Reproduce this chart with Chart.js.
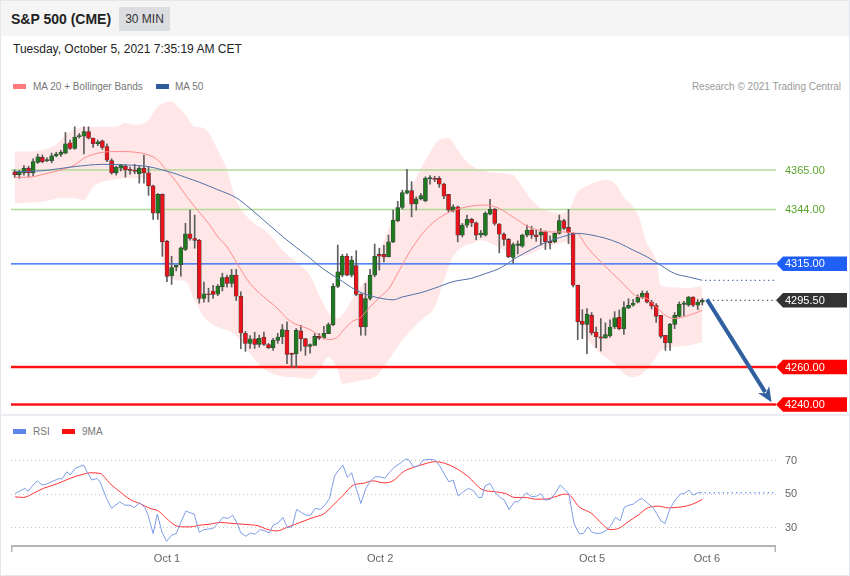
<!DOCTYPE html>
<html>
<head>
<meta charset="utf-8">
<script src="https://cdn.jsdelivr.net/npm/chart.js@4.4.1/dist/chart.umd.min.js"></script>
<style>
  html, body { margin: 0; padding: 0; background: #fff; }
  body { width: 850px; height: 576px; position: relative; overflow: hidden; font-family: "Liberation Sans", Arial, sans-serif; }
  #frame { position: absolute; left: 0; top: 0; width: 848px; height: 574px; border: 1px solid #e3e6ea; }
  #head { position: absolute; left: 1px; top: 1px; width: 848px; height: 35px; background: #f5f5f5; }
  #title { position: absolute; left: 11px; top: 11px; font-size: 14px; line-height: 16px; font-weight: bold; color: #222; }
  #tf { position: absolute; left: 119px; top: 7px; width: 51px; height: 24px; line-height: 24px; background: #dcdde1; text-align: center; font-size: 12px; color: #333; }
  #date { position: absolute; left: 13px; top: 42px; font-size: 12px; line-height: 14px; color: #222; }
  #sep { position: absolute; left: 1px; top: 414px; width: 848px; height: 2px; background: #eaedf1; }
  .sw { position: absolute; width: 13px; height: 5px; }
  .lg { position: absolute; font-size: 10px; line-height: 12px; color: #777; white-space: nowrap; }
  canvas { position: absolute; left: 0; top: 0; }
</style>
</head>
<body>
<div id="frame"></div>
<div id="head"></div>
<div id="title">S&amp;P 500 (CME)</div>
<div id="tf">30 MIN</div>
<div id="date">Tuesday, October 5, 2021 7:35:19 AM CET</div>
<div class="sw" style="left:13px;top:84px;background:#ff7b7b"></div>
<div class="lg" style="left:33px;top:81px">MA 20 + Bollinger Bands</div>
<div class="sw" style="left:156px;top:84px;background:#2e5c9a"></div>
<div class="lg" style="left:175px;top:81px">MA 50</div>
<div class="lg" style="right:9px;top:81px;color:#9a9a9a">Research © 2021 Trading Central</div>
<div id="sep"></div>
<div class="sw" style="left:13px;top:429px;background:#5d84e6"></div>
<div class="lg" style="left:33px;top:426px">RSI</div>
<div class="sw" style="left:62px;top:429px;background:#ff1010"></div>
<div class="lg" style="left:82px;top:426px">9MA</div>
<canvas id="chart" width="850" height="576"></canvas>
<script>
// 30 min candles, [open, high, low, close]
const ohlc = [
  [4364, 4365, 4361, 4362.5], [4362.5, 4364.8, 4360.5, 4364], [4363.5, 4367.3, 4362.3, 4366], [4366, 4367, 4361.5, 4363.5],
  [4363.5, 4371, 4362, 4369.5], [4369, 4373.5, 4368.5, 4372], [4371.7, 4373, 4368.8, 4369.5], [4370, 4371.5, 4369.5, 4370.5],
  [4370, 4374, 4368.8, 4372.5], [4372.5, 4374.5, 4372, 4373.5], [4373.3, 4375.5, 4372.2, 4374.5], [4374, 4385, 4373.6, 4379],
  [4379.5, 4381, 4376, 4376.5], [4376.5, 4388, 4376, 4382.5], [4382.7, 4384.5, 4382, 4383.3], [4383, 4388, 4373.6, 4385.5],
  [4385.5, 4388, 4381.5, 4382], [4382, 4382, 4377, 4379], [4379, 4381, 4378, 4380], [4380.5, 4381, 4376, 4377],
  [4377.5, 4379, 4369.5, 4370.3], [4370, 4371, 4362.7, 4363.5], [4363.5, 4367, 4362.3, 4366.5], [4366, 4368, 4364.5, 4367.7],
  [4367, 4368, 4361.2, 4365], [4365.3, 4366.5, 4362.8, 4364.8], [4365, 4368, 4363, 4364.3], [4363, 4367, 4358, 4366],
  [4366, 4373, 4358, 4363.5], [4363.5, 4366.8, 4351.5, 4356.5], [4356.5, 4357, 4338.7, 4342], [4342, 4352.5, 4338.7, 4352],
  [4352, 4352.3, 4319, 4326.7], [4327, 4327.5, 4305.5, 4308.3], [4308.5, 4319, 4304, 4313], [4313.2, 4314.3, 4311.2, 4314.3],
  [4314.5, 4324, 4308.4, 4323.5], [4322.6, 4336.6, 4322, 4331], [4331, 4343.6, 4327.6, 4328.5], [4328.5, 4341, 4323.3, 4327.5],
  [4327.5, 4328, 4294, 4296.5], [4296.5, 4305.3, 4294.6, 4299], [4299, 4302, 4294.7, 4298.5], [4300.5, 4303.5, 4296.5, 4298.7],
  [4298.8, 4304, 4298, 4303], [4302.7, 4310, 4300.5, 4307.7], [4307.8, 4309, 4302.5, 4304.5], [4304.5, 4312, 4302.6, 4309],
  [4309, 4312, 4295.4, 4297.7], [4297.7, 4300, 4269.8, 4278.1], [4278, 4279, 4268.3, 4272.5], [4272.5, 4276.8, 4269.9, 4275],
  [4275, 4278.5, 4269.9, 4272], [4272, 4277, 4270.5, 4275.3], [4276, 4278.6, 4271.5, 4272], [4272, 4272.6, 4269.8, 4270.3],
  [4270.3, 4275.3, 4268.8, 4274.2], [4274.2, 4278, 4272.6, 4276], [4276, 4282.6, 4272.4, 4279.9], [4279.5, 4284, 4261.7, 4266.7],
  [4267.4, 4267.4, 4259.9, 4266.7], [4267, 4280.5, 4259.6, 4279.5], [4279.2, 4282.2, 4268.5, 4275.1], [4275.1, 4275.1, 4266.2, 4271],
  [4271, 4272.4, 4267.4, 4271.9], [4271.5, 4277.8, 4271.5, 4276.3], [4276.3, 4277.8, 4274.6, 4275.4], [4275.5, 4281.7, 4275, 4278],
  [4277.8, 4283.5, 4277.8, 4282.6], [4282.6, 4304.5, 4282, 4303], [4303, 4325, 4302.3, 4310.7], [4309, 4320, 4308, 4319.1],
  [4319, 4320.3, 4308.5, 4309], [4309, 4319, 4308, 4317], [4314, 4322, 4298, 4298.7], [4298.7, 4299, 4276.9, 4281.3],
  [4281.3, 4304.6, 4276.9, 4296.5], [4296.5, 4312, 4295.6, 4308.9], [4309, 4325.5, 4308, 4319.1], [4320, 4323.3, 4311.6, 4319],
  [4320, 4324.8, 4316, 4318.6], [4318.7, 4330.3, 4318.7, 4326.7], [4326.7, 4343.6, 4326.2, 4338.3], [4338, 4348.3, 4337.4, 4345],
  [4345, 4354.3, 4344.2, 4352.9], [4352.6, 4365.4, 4352.2, 4354], [4354, 4358.8, 4340, 4346.8], [4347, 4350.7, 4343.6, 4349.6],
  [4349.6, 4352.5, 4349, 4351.3], [4348.6, 4361.4, 4348, 4360.6], [4360.2, 4362, 4357.4, 4361], [4360.5, 4361.7, 4358.8, 4360],
  [4360.5, 4361.5, 4355.7, 4357.5], [4357.5, 4358, 4349.7, 4351], [4352, 4352, 4342.7, 4343.6], [4343.2, 4346.4, 4342.7, 4345.4],
  [4345.4, 4345.8, 4326.7, 4330.3], [4330.3, 4336.5, 4329.3, 4335.6], [4335.6, 4341, 4334.4, 4338.7], [4338.7, 4339.3, 4334.8, 4336.8],
  [4336.8, 4337.3, 4327.8, 4330.3], [4330.4, 4332.8, 4329.1, 4331.4], [4330.3, 4342.7, 4329.8, 4341.9], [4341.5, 4349.3, 4341, 4344],
  [4344, 4344.5, 4335.6, 4336.5], [4336.2, 4336.5, 4320.8, 4330.8], [4330.8, 4331.5, 4324.8, 4328], [4328, 4328.5, 4318.3, 4318.7],
  [4318.4, 4326.2, 4315.2, 4325.3], [4324.8, 4327.2, 4320.3, 4325.6], [4324.4, 4330.8, 4323.8, 4330.3], [4330.3, 4335.6, 4329.3, 4333],
  [4333, 4335, 4328.5, 4330.3], [4330.5, 4333, 4327, 4329.5], [4330.3, 4333.8, 4325, 4332], [4332, 4332.6, 4322.6, 4326.7],
  [4327, 4329.9, 4322.9, 4326.3], [4326.7, 4331.5, 4326.2, 4331.2], [4331.2, 4341, 4330.8, 4338], [4338, 4338.7, 4333.2, 4333.9],
  [4334.4, 4344, 4325.8, 4331.5], [4331.2, 4331.5, 4302.7, 4303.6], [4303.6, 4303.6, 4274.6, 4284], [4284.5, 4290.6, 4275.1, 4282.7],
  [4282.7, 4291.1, 4267.1, 4288.1], [4287.5, 4289, 4277.1, 4278.1], [4278.6, 4281.3, 4270.3, 4276], [4276.1, 4285.8, 4268.5, 4275.4],
  [4275.4, 4283.5, 4275.4, 4277.3], [4276.5, 4285.1, 4275.9, 4281.3], [4281.3, 4289.5, 4280.4, 4286.2], [4286.5, 4290.4, 4279.8, 4280.4],
  [4280.4, 4294.7, 4277.4, 4291.7], [4291.3, 4296.4, 4291.1, 4292.9], [4292.9, 4296, 4292.4, 4294.1], [4294.6, 4298.4, 4294.1, 4297.1],
  [4297.1, 4300.5, 4296.5, 4299.3], [4299.3, 4300.5, 4294.1, 4294.6], [4294.6, 4295.6, 4290.9, 4292.4], [4292.9, 4293.8, 4283.8, 4287],
  [4287.5, 4287.5, 4275.4, 4276.3], [4276.9, 4276.9, 4268.8, 4272.8], [4272.8, 4283.2, 4268.8, 4282.7], [4282.7, 4289, 4280.4, 4287.5],
  [4287, 4294.7, 4286.6, 4293.4], [4293.4, 4295, 4287.2, 4294.2], [4293, 4297.7, 4292.4, 4297.3], [4297.3, 4297.5, 4292.2, 4292.9],
  [4292.9, 4296, 4290.6, 4294.6], [4294.6, 4296.5, 4293, 4295.5]
];

// indicator readings, [candle index, value]
const ma20 = [
  [0, 4361.1], [2, 4361.1], [4, 4361.4], [7, 4363.2], [10, 4365], [13, 4367.7], [15, 4371.3], [18, 4373.9], [21, 4374.8],
  [24, 4374.8], [27, 4374.2], [29, 4373], [31, 4370.3], [33, 4364.5], [35, 4358.8], [36, 4355.2], [39, 4345.4], [42, 4336.5],
  [44, 4329.4], [46, 4324], [48, 4316], [51, 4304.5], [54, 4297.3], [57, 4291.1], [59, 4285.8], [61, 4282.7], [64, 4279.9],
  [66, 4276.9], [68, 4274.6], [70, 4276], [71, 4279], [73, 4284], [75, 4286.5], [77, 4292], [79, 4297], [81, 4301.5],
  [83, 4310], [86, 4323], [89, 4333], [92, 4339.5], [95, 4343.3], [99, 4345.8], [102, 4346.3], [105, 4344.5], [107, 4341.5],
  [109, 4338.3], [111, 4335.1], [114, 4332.6], [116, 4332], [119, 4332], [121, 4331.5], [122, 4331], [124, 4324], [127, 4316],
  [131, 4306.5], [135, 4297.5], [137, 4296.5], [139, 4292], [141, 4287.5], [143, 4285.8], [146, 4287.5], [149, 4290.2]
];
const ma50 = [
  [0, 4364.1], [6, 4364.6], [13, 4366.8], [19, 4368], [24, 4367.7], [29, 4366.8], [32, 4365], [35, 4362.9], [37, 4361.1],
  [40, 4358.5], [44, 4354.5], [48, 4350.2], [51, 4344.5], [55, 4336], [59, 4327.6], [63, 4320], [67, 4312], [70, 4307.3],
  [74, 4300.9], [77, 4298], [80, 4296.3], [82, 4295.8], [84, 4297.3], [88, 4299.6], [91, 4302], [95, 4305.5], [99, 4307.3],
  [102, 4309.8], [105, 4312.5], [109, 4318.7], [112, 4322.7], [115, 4326.3], [118, 4328.9], [120, 4330.3], [122, 4331.2],
  [125, 4330.3], [128, 4328.6], [131, 4326], [134, 4322.3], [137, 4318.7], [140, 4314.2], [143, 4309.8], [146, 4308], [149, 4306.2]
];
const bbUpper = [
  [0, 4374.8], [3, 4374.8], [6, 4375.7], [9, 4378.5], [11, 4383.5], [13, 4386.4], [15, 4388], [18, 4388], [22, 4388.1],
  [24, 4390], [26, 4389], [29, 4391.7], [31, 4398.8], [34, 4401.5], [35, 4399.7], [37, 4394.4], [39, 4388.1], [41, 4387.4],
  [44, 4375.7], [46, 4365], [48, 4349], [51, 4338.3], [55, 4331.3], [58, 4322.3], [61, 4315.9], [64, 4308.9], [66, 4298.2],
  [68, 4289.1], [70, 4285.9], [72, 4291.3], [74, 4299.8], [77, 4310], [80, 4327.6], [82, 4338.3], [84, 4343.6], [86, 4355.5],
  [89, 4370.3], [92, 4381], [94, 4382.1], [96, 4375.7], [98, 4369.3], [101, 4365], [105, 4363.4], [108, 4362.3], [110, 4355.9],
  [112, 4349], [114, 4344.7], [118, 4342], [120, 4343.6], [122, 4353.2], [124, 4356.5], [126, 4358.6], [128, 4359.7],
  [130, 4358.1], [132, 4350.6], [135, 4341.5], [137, 4326], [139, 4316.9], [140, 4303.6], [143, 4302.5], [145, 4302], [149, 4303]
];
const bbLower = [
  [0, 4347.2], [6, 4348.1], [10, 4349.9], [13, 4349.9], [15, 4349], [17, 4356.1], [21, 4359.7], [25, 4360.6], [28, 4360.6],
  [29, 4356.1], [31, 4340], [32, 4316.9], [33, 4309.8], [35, 4306.2], [37, 4305.7], [39, 4295.6], [41, 4286.6], [44, 4281.3],
  [47, 4278.6], [49, 4274.2], [51, 4267.1], [54, 4259.1], [57, 4255.5], [60, 4254.6], [64, 4253.7], [66, 4258.2], [68, 4265.3],
  [70, 4258.2], [71, 4251.1], [75, 4252.8], [78, 4254.6], [81, 4263.5], [84, 4274.2], [88, 4284.9], [91, 4292], [93, 4306.2],
  [95, 4318.7], [97, 4324], [99, 4325.8], [101, 4327.6], [104, 4324.9], [106, 4322.3], [108, 4318.7], [112, 4320.5], [115, 4324],
  [118, 4325.8], [120, 4326.7], [121, 4312], [122, 4294], [123, 4283.1], [124, 4276], [127, 4267.1], [130, 4261.7],
  [132, 4256.4], [134, 4254.6], [136, 4256.4], [138, 4261.7], [140, 4268.8], [142, 4270.5], [146, 4271.5], [149, 4273.3]
];
const rsi = [
  [0.1, 50.1], [1.5, 52.1], [2.2, 53.1], [2.9, 51.5], [4, 55.1], [4.9, 57.6], [5.9, 55.1], [6.9, 55.7], [8.4, 57.6], [9.8, 59.1],
  [10.2, 58.5], [11.3, 63], [12, 61], [13.1, 65], [14.9, 67], [15.7, 63], [16.7, 58.1], [17.8, 59.1], [18.5, 57], [19.9, 47.1],
  [21, 41.2], [22.8, 45.1], [23.9, 43.1], [25, 43.1], [25.9, 41.7], [27.1, 44.5], [28.2, 41.7], [28.9, 37.2], [30, 26.2],
  [30.9, 37.8], [31.9, 27.2], [32.9, 21.6], [34, 25.2], [35, 26.2], [36.2, 34.2], [37.1, 39.6], [38, 38.6], [38.9, 37.8],
  [40, 27], [41, 28.6], [42.9, 29.2], [43.9, 31.8], [45.1, 35.8], [46.3, 35.2], [47.2, 37.2], [48.2, 32.2], [49, 26.6],
  [50.1, 24.6], [51.1, 26.6], [52.1, 25.8], [53.2, 28.6], [54.2, 27.8], [55.2, 26.6], [56, 31.2], [57.1, 32.6], [58.1, 35.8],
  [59.1, 29.8], [60.1, 30.2], [61.1, 40.6], [62.2, 38.6], [63.1, 37.2], [64.1, 37.2], [65.1, 41.2], [66.2, 40.6], [67.2, 43.1],
  [68.2, 47.1], [69.3, 60.4], [70.1, 63.6], [71.1, 67], [72.1, 59.7], [73, 62.4], [74, 53.1], [75, 44.1], [76.1, 53.1],
  [77.1, 57.6], [78.1, 60], [79.2, 60], [80.2, 59.1], [81.3, 63], [82.4, 66], [83.5, 68], [84.6, 70.4], [85.3, 70.4],
  [86.4, 66], [87.5, 66.4], [88.5, 70], [90, 70.4], [91.1, 70], [92.2, 66], [93.2, 61], [94.1, 57], [95, 58.1], [96.1, 48.5],
  [97.2, 51.1], [98.3, 53.1], [99.4, 51.7], [100.5, 47.7], [101.2, 47.7], [101.9, 54.5], [103, 56.1], [104.1, 50.5],
  [105.2, 47.7], [106.1, 46.1], [107.1, 40.6], [108.3, 45.1], [109.1, 45.1], [110.1, 48.1], [110.9, 50.5], [112, 48.1],
  [113.1, 48.5], [114, 50.1], [114.9, 46.1], [116, 46.5], [117.1, 50.1], [118.2, 55.1], [119.2, 52.5], [120.1, 49.7],
  [121.2, 32.2], [122.3, 26.2], [123.2, 26.2], [124.2, 30.2], [125, 27.2], [126.1, 26.2], [127.2, 26.6], [128.3, 28.2],
  [129.2, 31.2], [130.2, 35.8], [131.2, 33.8], [132.1, 41.9], [133.1, 43.1], [134, 43.7], [135.1, 46.1], [136, 47.1],
  [137.2, 44.1], [138.2, 42.1], [139.1, 38.2], [140, 33.8], [140.9, 32.2], [142, 41.2], [143.1, 46.1], [144.2, 49.7],
  [145.1, 50.1], [146.1, 52.1], [147, 49.1], [148, 50.5], [149, 50.5]
];
const rsiMa = [
  [0.1, 48.1], [1.9, 47.7], [4, 50.1], [6.2, 53.1], [9.1, 55.7], [12, 59.1], [14.9, 61.6], [16.3, 62.4], [18.5, 62],
  [20.6, 56.1], [22.8, 51.1], [25, 46.5], [27.1, 44.1], [29.3, 41.2], [31.1, 39.7], [32.9, 35.2], [34.7, 31.2], [36.5, 30.2],
  [38, 30.2], [40.1, 31.2], [42.3, 31.8], [44.5, 32.8], [47.4, 32.2], [50.3, 31.6], [52.8, 30.8], [54.6, 28.8], [56.8, 27.8],
  [58.9, 29.8], [61.8, 32.8], [64.7, 35.8], [66.9, 37.8], [69, 43.1], [71.2, 49.1], [73.4, 55.1], [75.5, 56.1], [77.7, 57.6],
  [79.9, 56.4], [82, 57.6], [84.2, 63], [86.4, 65.6], [88.5, 67.4], [91.1, 69], [93.2, 68], [95.4, 65.4], [98.3, 60],
  [101.2, 52.5], [104.1, 51.1], [106.3, 50.1], [108.4, 47.7], [110.6, 47.7], [112.8, 46.7], [114.9, 46.7], [117.1, 48.1],
  [119.2, 49.7], [120.1, 49.3], [122.3, 42.1], [125, 38.2], [127.2, 32.2], [129, 28.6], [130.8, 29.2], [132.9, 33.2],
  [135.1, 37.2], [137.3, 41.7], [139.5, 42.5], [141.6, 41.5], [144.5, 42.1], [146.7, 43.5], [149, 46.5]
];

const levels = [4365, 4344, 4315, 4260, 4240];
const levelKinds = ['res', 'res', 'pivot', 'sup', 'sup'];
const lastPrice = 4295.5;
const rsiGrid = [70, 50, 30];
const dateTicks = [33, 79.2, 125.1, 150];
const dateLabels = ['Oct 1', 'Oct 2', 'Oct 5', 'Oct 6'];
const arrowFrom = [150, 4296];
const arrowTo = [164, 4241.2];

const X_MIN = -0.8, X_MAX = 164.96;
const FONT = '"Liberation Sans", Arial, sans-serif';
const kindStyle = {
  res: { line: '#b2da98', width: 1.5 },
  pivot: { line: '#1b5ef7', width: 1.2, tag: '#1f5ff5' },
  sup: { line: '#ff1414', width: 2.5, tag: '#ff0000' }
};

const pts = arr => arr.map(([x, y]) => ({ x, y }));
const last = arr => arr[arr.length - 1];

const levelSets = levels.map((v, i) => ({
  type: 'line',
  data: [{ x: X_MIN, y: v }, { x: X_MAX, y: v }],
  borderColor: kindStyle[levelKinds[i]].line,
  borderWidth: kindStyle[levelKinds[i]].width,
  pointRadius: 0,
  order: 9
}));

const dotted = (data, color, axis) => ({
  type: 'line',
  data,
  yAxisID: axis,
  borderColor: color,
  borderWidth: 1.3,
  borderDash: [1.3, 3.2],
  pointRadius: 0,
  order: 3
});

// tag with a pointer on the left, for the price labels on the right
function tag(ctx, x, y, text, fill) {
  const h = 14.5;
  ctx.beginPath();
  ctx.moveTo(x, y);
  ctx.lineTo(x + 7, y - h / 2);
  ctx.lineTo(x + 71, y - h / 2);
  ctx.lineTo(x + 71, y + h / 2);
  ctx.lineTo(x + 7, y + h / 2);
  ctx.closePath();
  ctx.fillStyle = fill;
  ctx.fill();
  ctx.fillStyle = '#fff';
  ctx.fillText(text, x + 9, y + 0.5);
}

const overlay = {
  id: 'overlay',
  beforeDatasetsDraw(chart) {
    const { ctx, chartArea: a, scales } = chart;
    ctx.save();
    ctx.strokeStyle = '#c6c6c6';
    ctx.lineWidth = 1;
    ctx.setLineDash([1, 3]);
    rsiGrid.forEach(v => {
      const y = Math.round(scales.rsi.getPixelForValue(v)) + 0.5;
      ctx.beginPath();
      ctx.moveTo(a.left, y);
      ctx.lineTo(a.right, y);
      ctx.stroke();
    });
    ctx.restore();
  },
  afterDatasetsDraw(chart) {
    const { ctx, chartArea: a, scales } = chart;
    const sx = scales.x, sy = scales.y, sr = scales.rsi;
    ctx.save();

    // forecast arrow
    const x0 = sx.getPixelForValue(arrowFrom[0]), y0 = sy.getPixelForValue(arrowFrom[1]);
    const x1 = sx.getPixelForValue(arrowTo[0]), y1 = sy.getPixelForValue(arrowTo[1]);
    const len = Math.hypot(x1 - x0, y1 - y0);
    const ux = (x1 - x0) / len, uy = (y1 - y0) / len;
    const head = 15, half = 6.5;
    ctx.strokeStyle = ctx.fillStyle = '#30609f';
    ctx.lineWidth = 4;
    ctx.beginPath();
    ctx.moveTo(x0, y0);
    ctx.lineTo(x1 - ux * head * 0.8, y1 - uy * head * 0.8);
    ctx.stroke();
    ctx.beginPath();
    ctx.moveTo(x1, y1);
    ctx.lineTo(x1 - ux * head - uy * half, y1 - uy * head + ux * half);
    ctx.lineTo(x1 - ux * head * 0.7, y1 - uy * head * 0.7);
    ctx.lineTo(x1 - ux * head + uy * half, y1 - uy * head - ux * half);
    ctx.closePath();
    ctx.fill();

    // time axis
    ctx.strokeStyle = '#b4b4b4';
    ctx.lineWidth = 2;
    ctx.beginPath();
    ctx.moveTo(a.left, a.bottom);
    ctx.lineTo(a.right, a.bottom);
    ctx.stroke();
    ctx.lineWidth = 1.5;
    [a.left + 0.75, a.right - 0.75].forEach(x => {
      ctx.beginPath();
      ctx.moveTo(x, a.bottom);
      ctx.lineTo(x, a.bottom + 6);
      ctx.stroke();
    });
    ctx.font = '11px ' + FONT;
    ctx.fillStyle = '#666';
    ctx.textAlign = 'center';
    ctx.textBaseline = 'middle';
    dateTicks.forEach((t, i) => ctx.fillText(dateLabels[i], sx.getPixelForValue(t), a.bottom + 13));

    // right side labels
    ctx.textAlign = 'left';
    levels.forEach((v, i) => {
      const y = sy.getPixelForValue(v);
      const st = kindStyle[levelKinds[i]];
      if (st.tag) {
        tag(ctx, a.right, y, v.toFixed(2), st.tag);
      } else {
        ctx.fillStyle = '#5aa52e';
        ctx.fillText(v.toFixed(2), a.right + 9, y + 0.5);
      }
    });
    tag(ctx, a.right, sy.getPixelForValue(lastPrice), lastPrice.toFixed(2), '#333333');
    ctx.fillStyle = '#666';
    rsiGrid.forEach(v => ctx.fillText(String(v), a.right + 9, sr.getPixelForValue(v) + 0.5));
    ctx.restore();
  }
};

new Chart(document.getElementById('chart'), {
  type: 'line',
  data: {
    datasets: [
      {
        type: 'line', data: pts(bbUpper), borderColor: 'transparent', borderWidth: 0,
        backgroundColor: 'rgba(255,110,110,0.17)', fill: '+1', pointRadius: 0,
        cubicInterpolationMode: 'monotone', order: 10
      },
      {
        type: 'line', data: pts(bbLower), borderColor: 'transparent', borderWidth: 0,
        fill: false, pointRadius: 0, cubicInterpolationMode: 'monotone', order: 10
      },
      ...levelSets,
      {
        type: 'bar', data: ohlc.map((r, i) => ({ x: i, y: [r[2], r[1]] })),
        backgroundColor: '#5e5e5e', barThickness: 1, grouped: false, order: 6
      },
      {
        type: 'bar', data: ohlc.map((r, i) => ({ x: i, y: [r[0], r[3]] })),
        backgroundColor: c => (c.raw && c.raw.y[1] >= c.raw.y[0]) ? '#1f7a1f' : '#e8131b',
        borderColor: '#3c3c3c', borderWidth: 0.6, borderSkipped: false,
        barThickness: 4, minBarLength: 1, grouped: false, order: 5
      },
      {
        type: 'line', data: pts(ma50), borderColor: '#4f70a8', borderWidth: 1,
        pointRadius: 0, cubicInterpolationMode: 'monotone', order: 3
      },
      {
        type: 'line', data: pts(ma20), borderColor: '#ff8a8a', borderWidth: 1,
        pointRadius: 0, cubicInterpolationMode: 'monotone', order: 3
      },
      dotted([{ x: last(ma50)[0] + 0.6, y: last(ma50)[1] }, { x: X_MAX, y: last(ma50)[1] }], '#4f70a8', 'y'),
      dotted([{ x: ohlc.length + 0.3, y: lastPrice }, { x: X_MAX, y: lastPrice }], '#555', 'y'),
      dotted([{ x: last(rsi)[0] + 0.5, y: last(rsi)[1] }, { x: X_MAX, y: last(rsi)[1] }], '#7194e8', 'rsi'),
      {
        type: 'line', data: pts(rsi), yAxisID: 'rsi', borderColor: '#7e9ce8', borderWidth: 1,
        pointRadius: 0, tension: 0, order: 2
      },
      {
        type: 'line', data: pts(rsiMa), yAxisID: 'rsi', borderColor: '#ff3434', borderWidth: 1,
        pointRadius: 0, cubicInterpolationMode: 'monotone', order: 2
      }
    ]
  },
  options: {
    responsive: false,
    animation: false,
    events: [],
    layout: { padding: { left: 11, right: 74, top: 90, bottom: 30 } },
    scales: {
      x: { type: 'linear', axis: 'x', min: X_MIN, max: X_MAX, offset: false, display: false },
      y: { type: 'linear', axis: 'y', min: 4164.57, max: 4407.64, display: false },
      rsi: { type: 'linear', axis: 'y', min: 18.81, max: 290.24, display: false }
    },
    plugins: {
      legend: { display: false },
      tooltip: { enabled: false },
      filler: { drawTime: 'beforeDatasetDraw' }
    }
  },
  plugins: [overlay]
});
</script>
</body>
</html>
